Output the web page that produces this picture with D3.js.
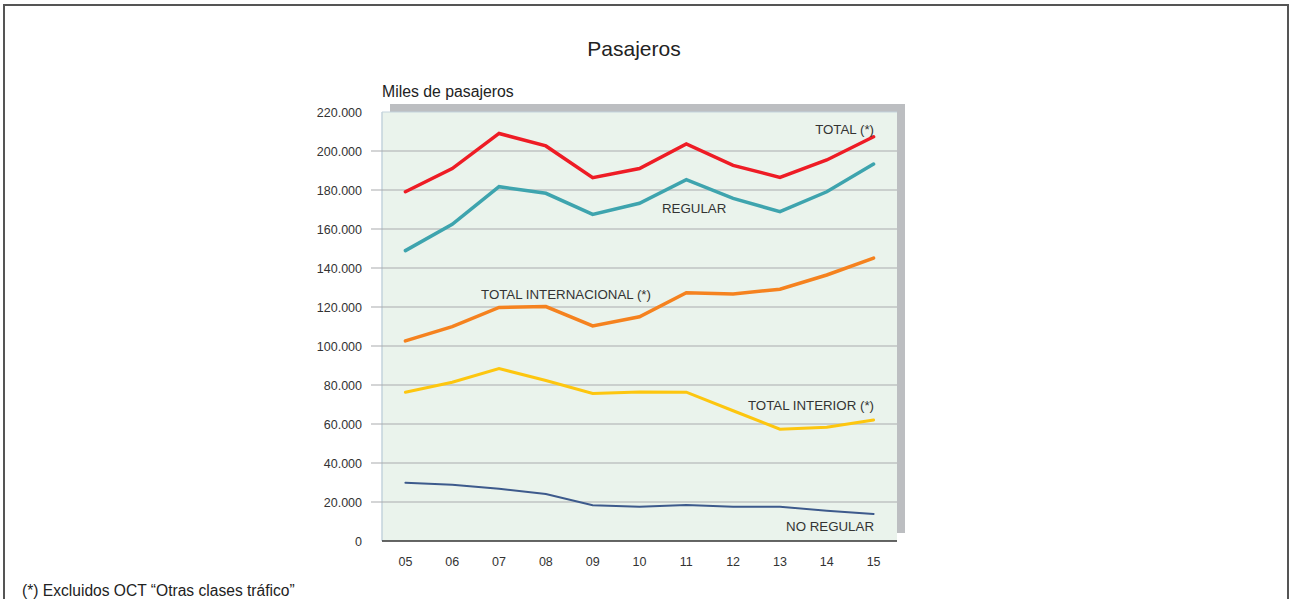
<!DOCTYPE html>
<html lang="es">
<meta charset="utf-8">
<style>
body {
  margin: 0;
  font-family: 'Liberation Sans', Arial, sans-serif;
  background: #fff;
}
.grid line {
  stroke: #a9abad;
  stroke-width: 1.2px;
}
.tick-lab {
  font-size: 12.5px;
  fill: #333;
}
.serie {
  fill: none;
  stroke-linejoin: miter;
  stroke-linecap: round;
}
.lab {
  font-size: 13.3px;
  fill: #333;
}
</style>
<body>
<div id="chart"></div>
<script src="https://d3js.org/d3.v7.min.js"></script>
<script>

// datos (miles de pasajeros)
var years = ["05", "06", "07", "08", "09", "10", "11", "12", "13", "14", "15"];
var total = [179100, 191000, 209000, 202600, 186300, 191000, 203600, 192600, 186500, 195400, 207300];
var regular = [148900, 162400, 181700, 178300, 167500, 173200, 185300, 175700, 168900, 179100, 193300];
var internacional = [102600, 109900, 119800, 120200, 110300, 115000, 127300, 126700, 129100, 136400, 145100];
var interior = [76300, 81400, 88400, 82300, 75700, 76400, 76300, 66800, 57300, 58300, 62100];
var noRegular = [29900, 28900, 26800, 24100, 18300, 17600, 18500, 17600, 17600, 15500, 13900];
var yTicks = [0, 20000, 40000, 60000, 80000, 100000, 120000, 140000, 160000, 180000, 200000, 220000];

var width = 1290, height = 599;
var pLeft = 382, pRight = 897, pTop = 112, pBottom = 541;

var svg = d3.select("#chart").append("svg")
    .attr("width", width)
    .attr("height", height);

// marco exterior
svg.append("path")
    .attr("d", "M4,599 V5 H1288 V599")
    .attr("fill", "none")
    .attr("stroke", "#555")
    .attr("stroke-width", 2);

svg.append("text")
    .attr("x", 634).attr("y", 56)
    .attr("text-anchor", "middle")
    .style("font-size", "21px")
    .style("fill", "#222")
    .text("Pasajeros");

svg.append("text")
    .attr("x", 382).attr("y", 97)
    .style("font-size", "15.8px")
    .style("fill", "#222")
    .text("Miles de pasajeros");

var x = d3.scalePoint()
    .domain(years)
    .range([pLeft, pRight])
    .padding(0.5);

var y = d3.scaleLinear()
    .domain([0, 220000])
    .range([pBottom, pTop]);

// sombra
svg.append("rect")
    .attr("x", pLeft + 8).attr("y", pTop - 8)
    .attr("width", pRight - pLeft).attr("height", pBottom - pTop)
    .attr("fill", "#bcbec1");

svg.append("rect")
    .attr("x", pLeft).attr("y", pTop)
    .attr("width", pRight - pLeft).attr("height", pBottom - pTop)
    .attr("fill", "#eaf3ec");

svg.append("line")
    .attr("x1", pLeft).attr("x2", pLeft)
    .attr("y1", pTop).attr("y2", pBottom)
    .attr("stroke", "#c3d3dc")
    .attr("stroke-width", 1.5);

svg.append("line")
    .attr("x1", pLeft).attr("x2", pRight)
    .attr("y1", pTop).attr("y2", pTop)
    .attr("stroke", "#c3d3dc")
    .attr("stroke-width", 1);

svg.append("g")
    .attr("class", "grid")
  .selectAll("line")
    .data(yTicks.filter(function(d) { return d > 0 && d < 220000; }))
  .enter().append("line")
    .attr("x1", pLeft - 11).attr("x2", pRight)
    .attr("y1", function(d) { return y(d); })
    .attr("y2", function(d) { return y(d); });

svg.append("line")
    .attr("x1", pLeft).attr("x2", pRight)
    .attr("y1", pBottom).attr("y2", pBottom)
    .attr("stroke", "#333")
    .attr("stroke-width", 1.5);

svg.append("g").selectAll("text")
    .data(yTicks)
  .enter().append("text")
    .attr("class", "tick-lab")
    .attr("x", 362)
    .attr("y", function(d) { return y(d) + 4.5; })
    .attr("text-anchor", "end")
    .text(function(d) { return d3.format(",")(d).replace(/,/g, "."); });

svg.append("g").selectAll("text")
    .data(years)
  .enter().append("text")
    .attr("class", "tick-lab")
    .attr("x", function(d) { return x(d); })
    .attr("y", 566)
    .attr("text-anchor", "middle")
    .text(function(d) { return d; });

var line = d3.line()
    .x(function(d, i) { return x(years[i]); })
    .y(function(d) { return y(d); });

var series = [
  {values: noRegular, color: "#3d5a8c", w: 2},
  {values: interior, color: "#fdc60f", w: 3},
  {values: internacional, color: "#f5821f", w: 3.5},
  {values: regular, color: "#3ea4ae", w: 3.5},
  {values: total, color: "#ee1c25", w: 3.5}
];

svg.append("g").selectAll("path")
    .data(series)
  .enter().append("path")
    .attr("class", "serie")
    .attr("d", function(d) { return line(d.values); })
    .attr("stroke", function(d) { return d.color; })
    .attr("stroke-width", function(d) { return d.w; });

var labels = [
  {t: "TOTAL (*)", x: 874, y: 134, a: "end"},
  {t: "REGULAR", x: 662, y: 213, a: "start"},
  {t: "TOTAL INTERNACIONAL (*)", x: 481, y: 299, a: "start"},
  {t: "TOTAL INTERIOR (*)", x: 874, y: 410, a: "end"},
  {t: "NO REGULAR", x: 874, y: 531, a: "end"}
];

svg.append("g").selectAll("text")
    .data(labels)
  .enter().append("text")
    .attr("class", "lab")
    .attr("x", function(d) { return d.x; })
    .attr("y", function(d) { return d.y; })
    .attr("text-anchor", function(d) { return d.a; })
    .text(function(d) { return d.t; });

svg.append("text")
    .attr("x", 22).attr("y", 596)
    .style("font-size", "15.6px")
    .style("fill", "#222")
    .text("(*) Excluidos OCT \u201cOtras clases tr\u00e1fico\u201d");

</script>
</body>
</html>
